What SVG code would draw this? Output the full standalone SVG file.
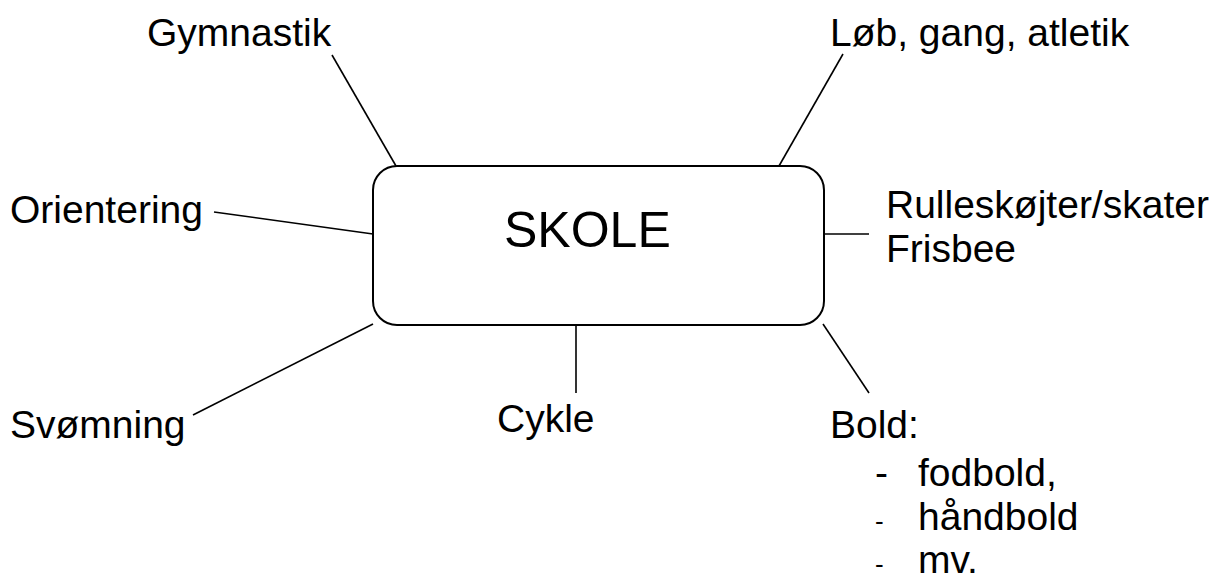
<svg xmlns="http://www.w3.org/2000/svg" width="1222" height="578" viewBox="0 0 1222 578">
  <style>
    .lbl { font-family: "Liberation Sans", Arial, sans-serif; font-size: 39px; fill: #000; }
    .hub { font-family: "Liberation Sans", Arial, sans-serif; font-size: 50px; fill: #000; }
    .dash { font-family: "Liberation Sans", Arial, sans-serif; font-size: 26px; fill: #000; }
    .wire { stroke: #000; stroke-width: 1.6; fill: none; }
  </style>
  <rect width="1222" height="578" fill="#fff"/>

  <!-- spokes from the centre box out to each activity -->
  <g id="connectors">
    <line class="wire" x1="332" y1="55" x2="396" y2="166"/>
    <line class="wire" x1="843" y1="54" x2="779" y2="166"/>
    <line class="wire" x1="214" y1="212" x2="373" y2="234"/>
    <line class="wire" x1="825" y1="234" x2="869" y2="234"/>
    <line class="wire" x1="193" y1="415" x2="373" y2="324"/>
    <line class="wire" x1="576" y1="325" x2="576" y2="393"/>
    <line class="wire" x1="823" y1="324" x2="869" y2="393"/>
  </g>

  <g id="skole">
    <rect x="373" y="166" width="451" height="159" rx="24" ry="24" fill="#fff" stroke="#000" stroke-width="2"/>
    <text class="hub" x="504" y="247">SKOLE</text>
  </g>

  <g id="gymnastik">
    <text class="lbl" x="147" y="46">Gymnastik</text>
  </g>

  <g id="loeb">
    <text class="lbl" x="830" y="46">Løb, gang, atletik</text>
  </g>

  <g id="orientering">
    <text class="lbl" x="10" y="223">Orientering</text>
  </g>

  <g id="rulleskoejter">
    <text class="lbl" x="886" y="218">Rulleskøjter/skater</text>
    <text class="lbl" x="886" y="262">Frisbee</text>
  </g>

  <g id="svoemning">
    <text class="lbl" x="10" y="438">Svømning</text>
  </g>

  <g id="cykle">
    <text class="lbl" x="497" y="432">Cykle</text>
  </g>

  <g id="bold">
    <text class="lbl" x="830" y="438">Bold:</text>
    <text class="lbl" x="875" y="486">-</text>
    <text class="lbl" x="918" y="486">fodbold,</text>
    <text class="dash" x="875" y="530">-</text>
    <text class="lbl" x="918" y="530">håndbold</text>
    <text class="dash" x="875" y="573">-</text>
    <text class="lbl" x="918" y="573">mv.</text>
  </g>
</svg>
